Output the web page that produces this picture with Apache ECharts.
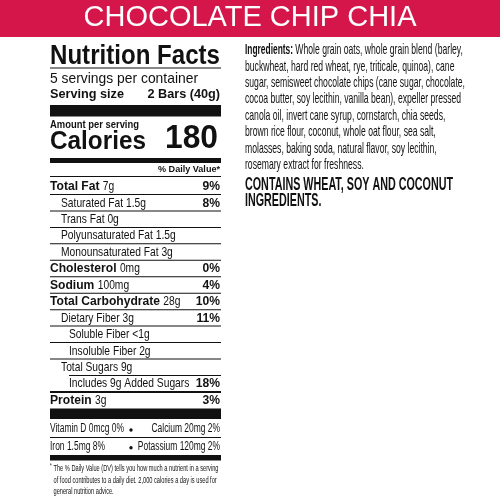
<!DOCTYPE html>
<html>
<head>
<meta charset="utf-8">
<script src="https://cdn.jsdelivr.net/npm/echarts@6/dist/echarts.min.js"></script>
<style>
html, body { margin: 0; padding: 0; background: #fff; }
#main { width: 500px; height: 500px; }
</style>
</head>
<body>
<div id="main"></div>
<script>
// label content
var productName = 'CHOCOLATE CHIP CHIA';
var servingsText = '5 servings per container';
var servingSize = ['Serving size', '2 Bars (40g)'];
var calories = '180';

var nutrientNames = ['Total Fat', 'Saturated Fat', 'Trans Fat', 'Polyunsaturated Fat', 'Monounsaturated Fat',
    'Cholesterol', 'Sodium', 'Total Carbohydrate', 'Dietary Fiber', 'Soluble Fiber', 'Insoluble Fiber',
    'Total Sugars', 'Includes 9g Added Sugars', 'Protein'];
var nutrientAmounts = ['7g', '1.5g', '0g', '1.5g', '3g', '0mg', '100mg', '28g', '3g', '<1g', '2g', '9g', '', '3g'];
var nutrientDV = ['9%', '8%', '', '', '', '0%', '4%', '10%', '11%', '', '', '', '18%', '3%'];
var nutrientLevel = [0, 1, 1, 1, 1, 0, 0, 0, 1, 2, 2, 1, 2, 0];

var microNames = ['Vitamin D', 'Calcium', 'Iron', 'Potassium'];
var microAmounts = ['0mcg', '20mg', '1.5mg', '120mg'];
var microDV = ['0%', '2%', '8%', '2%'];

var footnoteLines = ['The % Daily Value (DV) tells you how much a nutrient in a serving',
    'of food contributes to a daily diet. 2,000 calories a day is used for',
    'general nutrition advice.'];

var ingredientsLabel = 'Ingredients:';
var ingredientLines = ['Whole grain oats, whole grain blend (barley,',
    'buckwheat, hard red wheat, rye, triticale, quinoa), cane',
    'sugar, semisweet chocolate chips (cane sugar, chocolate,',
    'cocoa butter, soy lecithin, vanilla bean), expeller pressed',
    'canola oil, invert cane syrup, cornstarch, chia seeds,',
    'brown rice flour, coconut, whole oat flour, sea salt,',
    'molasses, baking soda, natural flavor, soy lecithin,',
    'rosemary extract for freshness.'];
var allergenLines = ['CONTAINS WHEAT, SOY AND COCONUT', 'INGREDIENTS.'];

var FAMILY = '"Liberation Sans Narrow","Liberation Sans",Arial,sans-serif';
var INK = '#111';
var ctx = document.createElement('canvas').getContext('2d');

function font(weight, size, family) {
    return weight + ' ' + size + 'px ' + (family || FAMILY);
}
function measure(f, s) {
    ctx.font = f;
    return ctx.measureText(s).width;
}
// horizontal squeeze so that a reference string gets the width seen on the label
function fit(f, ref, width) {
    return width / measure(f, ref);
}

var elements = [];
function text(x, y, str, f, sx, align, heavy) {
    var style = {
        text: str, font: f, fill: INK,
        textAlign: align || 'left', textVerticalAlign: 'middle',
        align: align || 'left', verticalAlign: 'middle'
    };
    if (heavy) {
        style.stroke = INK;
        style.lineWidth = heavy;
    }
    elements.push({type: 'text', x: x, y: y, scaleX: sx || 1, style: style});
}
function bar(x1, x2, y, h) {
    elements.push({type: 'rect', shape: {x: x1, y: y, width: x2 - x1, height: h}, style: {fill: INK}});
}
function dot(x, y) {
    elements.push({type: 'circle', shape: {cx: x, cy: y, r: 1.7}, style: {fill: INK}});
}

var L = 50, R = 221, RT = 220;
var indent = [50, 61, 69];

/* header */
elements.push({type: 'rect', shape: {x: 0, y: 0, width: 500, height: 37}, style: {fill: '#d5164a'}});
elements.push({
    type: 'text', x: 250, y: 17.5,
    style: {
        text: productName, font: font('normal', 29, '"Liberation Sans",Arial,sans-serif'), fill: '#fff',
        textAlign: 'center', textVerticalAlign: 'middle', align: 'center', verticalAlign: 'middle'
    }
});

/* top of label */
var fTitle = font('bold', 28);
text(L, 56, 'Nutrition Facts', fTitle, fit(fTitle, 'Nutrition Facts', 170));
bar(L, R, 67.5, 1);
var fServ = font('normal', 15);
text(L, 78.5, servingsText, fServ, fit(fServ, servingsText, 148));
var fSize = font('bold', 13);
var sSize = fit(fSize, servingSize[0], 74);
text(L, 94.5, servingSize[0], fSize, sSize);
text(RT, 94.5, servingSize[1], fSize, sSize, 'right');
bar(L, R, 105, 11.5);

var fAmt = font('bold', 10);
text(L, 125.5, 'Amount per serving', fAmt, fit(fAmt, 'Amount per serving', 89));
var fCal = font('bold', 25);
text(L, 142, 'Calories', fCal, fit(fCal, 'Calories', 96));
var fCalN = font('bold', 34);
text(218, 139, calories, fCalN, fit(fCalN, '180', 53), 'right');
bar(L, R, 158, 5);

var fDV = font('bold', 9);
text(RT, 170, '% Daily Value*', fDV, fit(fDV, '% Daily Value*', 62), 'right');
bar(L, R, 176, 1);

/* nutrient rows */
var fRowB = font('bold', 13);
var fRow = font('normal', 13);
var sRowB = fit(fRowB, 'Total Carbohydrate', 110);
var sRow = fit(fRow, 'Saturated Fat 1.5g', 85);
var rowStep = 16.45;
nutrientNames.forEach(function (name, i) {
    var y = 186.5 + rowStep * i;
    var lvl = nutrientLevel[i];
    var x = indent[lvl];
    if (lvl === 0) {
        text(x, y, name, fRowB, sRowB);
        text(x + measure(fRowB, name + ' ') * sRowB, y, nutrientAmounts[i], fRow, sRow);
    } else {
        text(x, y, name + (nutrientAmounts[i] ? ' ' + nutrientAmounts[i] : ''), fRow, sRow);
    }
    if (nutrientDV[i]) text(RT, y, nutrientDV[i], fRowB, sRowB, 'right');
    if (i < nutrientNames.length - 1) {
        var ly = 194.5 + rowStep * i;
        var next = nutrientNames[i + 1];
        var x0 = next.indexOf('Includes') === 0 ? indent[2] : L;
        var w = name.indexOf('Includes') === 0 ? 2 : 1;
        bar(x0, R, ly - w / 2, w);
    }
});
bar(L, R, 408.5, 10.5);

/* vitamins and minerals */
var fMic = font('normal', 12);
var sMic = fit(fMic, 'Vitamin D 0mcg 0%', 74);
[0, 1].forEach(function (r) {
    var y = 429 + r * 17.7;
    var a = r * 2, b = r * 2 + 1;
    text(L, y, microNames[a] + ' ' + microAmounts[a] + ' ' + microDV[a], fMic, sMic);
    text(RT, y, microNames[b] + ' ' + microAmounts[b] + ' ' + microDV[b], fMic, sMic, 'right');
    dot(131, y + 1);
});
bar(L, R, 437, 1);
bar(L, R, 455, 5.5);

/* footnote */
var fFoot = font('normal', 9);
var sFoot = fit(fFoot, footnoteLines[0], 165);
text(L, 466, '*', font('normal', 7), sFoot);
footnoteLines.forEach(function (line, i) {
    text(53.5, 468.5 + 11.7 * i, line, fFoot, sFoot);
});

/* ingredients column */
var fIngB = font('bold', 15);
var fIng = font('normal', 15);
var sIngB = fit(fIngB, ingredientsLabel, 48);
var sIng = fit(fIng, ingredientLines[2], 220);
var ingStep = 16.4;
text(245, 50, ingredientsLabel, fIngB, sIngB);
ingredientLines.forEach(function (line, i) {
    if (i === 0) {
        text(245 + measure(fIngB, ingredientsLabel + ' ') * sIngB, 50, line, fIng, sIng, 0.3);
    } else {
        text(245, 50 + ingStep * i, line, fIng, sIng, 0.3);
    }
});
var fAll = font('bold', 19);
var sAll = fit(fAll, allergenLines[0], 208);
allergenLines.forEach(function (line, i) {
    text(245, 185 + 16 * i, line, fAll, sAll);
});

var chart = echarts.init(document.getElementById('main'));
chart.setOption({
    backgroundColor: '#fff',
    animation: false,
    graphic: {elements: elements}
});
window.onresize = chart.resize;
</script>
</body>
</html>
